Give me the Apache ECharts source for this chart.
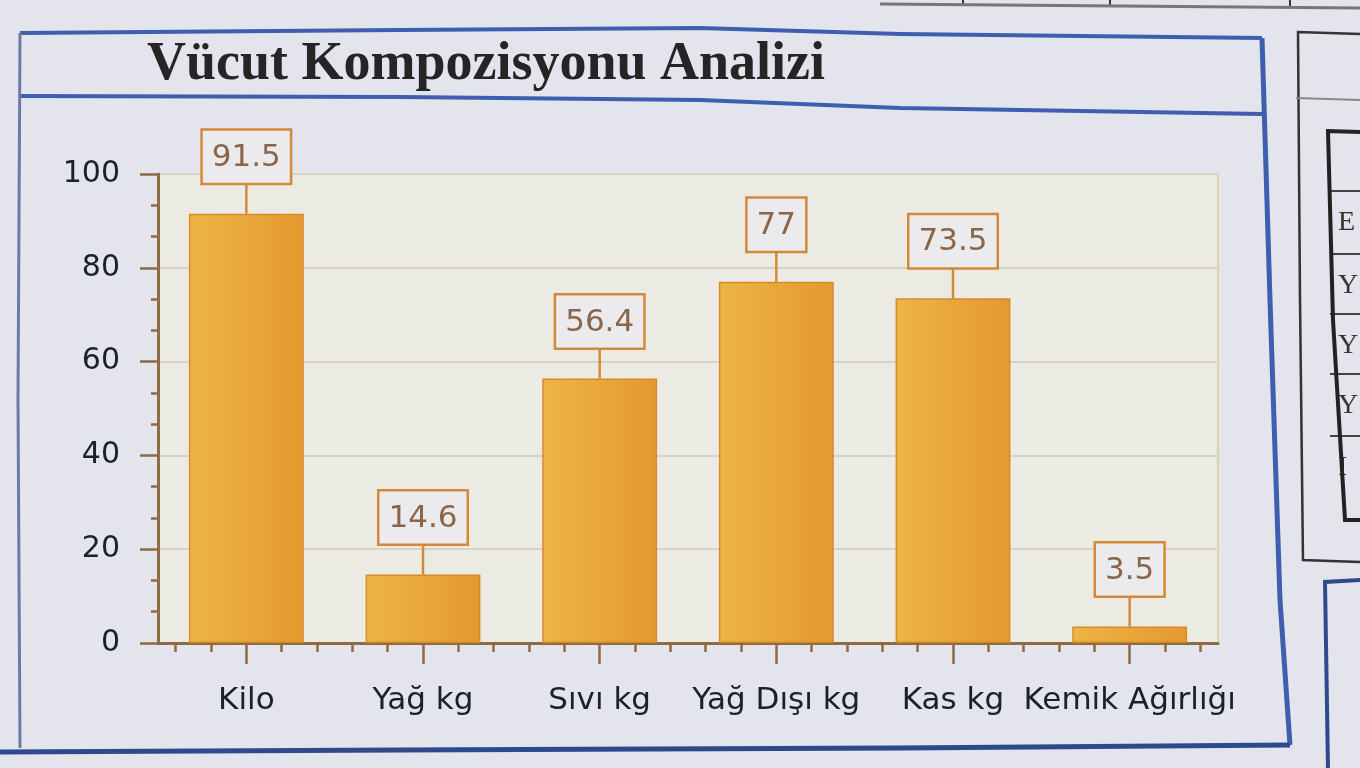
<!DOCTYPE html>
<html>
<head>
<meta charset="utf-8">
<script src="https://cdn.jsdelivr.net/npm/echarts@6/dist/echarts.min.js"></script>
<style>
  html, body { margin: 0; padding: 0; background: #e3e4ec; }
  #chart { width: 1360px; height: 768px; }
</style>
</head>
<body>
<div id="chart"></div>
<script>
// ---- data ----
const titleText = 'Vücut Kompozisyonu Analizi';
const categories = ['Kilo', 'Yağ kg', 'Sıvı kg', 'Yağ Dışı kg', 'Kas kg', 'Kemik Ağırlığı'];
const values = [91.5, 14.6, 56.4, 77, 73.5, 3.5];
const yMin = 0, yMax = 100, yStep = 20;
const subTicksPerCategory = 5;
const sideTableLetters = ['E', 'Y', 'Y', 'Y', 'I'];

// ---- styles ----
const axisBrown = '#8f6a46';
const orangeLine = '#d4893a';
const blue = '#3d5fae';
const connectorLength = 31;

const subCategories = [];
for (let i = 0; i < categories.length * subTicksPerCategory; i++) subCategories.push('');

const chart = echarts.init(document.getElementById('chart'));

const graphics = [
  { type: 'polyline', shape: { points: [[20, 33], [400, 30], [700, 28], [900, 34], [1262, 38]] },
    style: { stroke: blue, lineWidth: 4, fill: null }, z: 10 },
  { type: 'polyline', shape: { points: [[20, 96], [400, 97], [700, 100], [900, 108], [1262, 114]] },
    style: { stroke: blue, lineWidth: 4, fill: null }, z: 10 },
  { type: 'polyline', shape: { points: [[20, 33], [18, 400], [20, 748]] },
    style: { stroke: '#6a7aa8', lineWidth: 3, fill: null }, z: 10 },
  { type: 'polyline', shape: { points: [[1262, 38], [1270, 300], [1280, 600], [1290, 745]] },
    style: { stroke: blue, lineWidth: 5, fill: null }, z: 10 },
  { type: 'polyline', shape: { points: [[0, 752], [400, 750], [900, 748], [1290, 745]] },
    style: { stroke: '#2f4a8c', lineWidth: 5, fill: null }, z: 10 },
  { type: 'polyline', shape: { points: [[880, 4], [1360, 8]] },
    style: { stroke: '#777', lineWidth: 3, fill: null }, z: 10 },
  { type: 'line', shape: { x1: 963, y1: 0, x2: 963, y2: 6 }, style: { stroke: '#333', lineWidth: 2 } },
  { type: 'line', shape: { x1: 1110, y1: 0, x2: 1110, y2: 7 }, style: { stroke: '#333', lineWidth: 2 } },
  { type: 'line', shape: { x1: 1290, y1: 0, x2: 1290, y2: 8 }, style: { stroke: '#333', lineWidth: 2 } },
  { type: 'polyline', shape: { points: [[1360, 34], [1298, 32], [1300, 300], [1303, 560], [1360, 562]] },
    style: { stroke: '#333', lineWidth: 2.5, fill: null }, z: 10 },
  { type: 'polyline', shape: { points: [[1360, 100], [1296, 98]] },
    style: { stroke: '#888', lineWidth: 2, fill: null }, z: 10 },
  { type: 'polyline', shape: { points: [[1360, 132], [1328, 131], [1333, 320], [1345, 520], [1360, 520]] },
    style: { stroke: '#222', lineWidth: 4, fill: null }, z: 10 },
  { type: 'polyline', shape: { points: [[1360, 580], [1325, 582], [1328, 768]] },
    style: { stroke: '#2f4a8c', lineWidth: 4, fill: null }, z: 10 }
];
const rowYs = [195, 258, 318, 378, 440];
rowYs.forEach(function (y, i) {
  graphics.push({ type: 'line', shape: { x1: 1330, y1: y - 4, x2: 1360, y2: y - 4 }, style: { stroke: '#444', lineWidth: 2 } });
  graphics.push({ type: 'text', x: 1338, y: y + 14, style: { text: sideTableLetters[i], font: '28px "Liberation Serif"', fill: '#333' } });
});

const option = {
  backgroundColor: '#e3e4ec',
  animation: false,
  title: {
    text: titleText,
    left: 142, top: 33,
    textStyle: { fontFamily: 'Liberation Serif', fontWeight: 'bold', fontSize: 54, color: '#252525' }
  },
  graphic: graphics,
  grid: {
    left: 158, right: 142, top: 174, bottom: 125,
    show: true, backgroundColor: '#ebeae3', borderColor: '#dcd2ae', borderWidth: 2
  },
  xAxis: [
    {
      type: 'category', data: categories, position: 'bottom',
      axisLine: { show: true, lineStyle: { color: axisBrown, width: 3 } },
      axisTick: { show: true, alignWithLabel: true, length: 21, lineStyle: { color: axisBrown, width: 2.5 } },
      axisLabel: { margin: 42, fontFamily: 'DejaVu Sans', fontSize: 31, color: '#1a202c', interval: 0 },
      splitLine: { show: false }
    },
    {
      type: 'category', data: subCategories, position: 'bottom',
      axisLine: { show: false },
      axisTick: { show: true, alignWithLabel: true, length: 9, interval: 0, lineStyle: { color: axisBrown, width: 2.5 } },
      axisLabel: { show: false },
      splitLine: { show: false }
    }
  ],
  yAxis: {
    type: 'value', min: yMin, max: yMax, interval: yStep,
    axisLine: { show: true, lineStyle: { color: axisBrown, width: 3 } },
    axisTick: { show: true, length: 18, lineStyle: { color: axisBrown, width: 2.5 } },
    minorTick: { show: true, splitNumber: 3, length: 7, lineStyle: { color: axisBrown, width: 2.5 } },
    axisLabel: { margin: 38, fontFamily: 'DejaVu Sans', fontSize: 30, color: '#1a202c' },
    splitLine: { show: true, lineStyle: { color: '#d6d3c6', width: 2 } }
  },
  series: [
    {
      type: 'bar',
      xAxisIndex: 0,
      data: values,
      barWidth: '65%',
      itemStyle: {
        color: {
          type: 'linear', x: 0, y: 0, x2: 1, y2: 0,
          colorStops: [{ offset: 0, color: '#ecb544' }, { offset: 1, color: '#e5992e' }]
        },
        borderColor: '#d88a28', borderWidth: 1.5
      }
    },
    {
      type: 'custom',
      xAxisIndex: 0,
      data: values.map(function (v, i) { return [i, v]; }),
      z: 5,
      renderItem: function (params, api) {
        const p = api.coord([api.value(0), api.value(1)]);
        const topY = p[1] - connectorLength;
        return {
          type: 'group',
          children: [
            { type: 'line', shape: { x1: p[0], y1: p[1], x2: p[0], y2: topY },
              style: { stroke: orangeLine, lineWidth: 2.5 } },
            { type: 'text', x: p[0], y: topY,
              style: {
                text: String(api.value(1)),
                font: '31px "DejaVu Sans"', fill: '#8b6548',
                align: 'center', verticalAlign: 'bottom',
                backgroundColor: '#ebebee', borderColor: orangeLine, borderWidth: 2.5,
                padding: [8, 9, 6, 9], lineHeight: 38
              } }
          ]
        };
      }
    }
  ]
};
chart.setOption(option);
</script>
</body>
</html>
